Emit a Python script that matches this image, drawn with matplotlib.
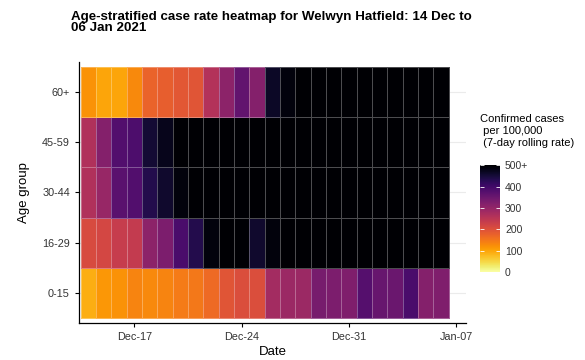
import numpy as np
import pandas as pd
import matplotlib
matplotlib.use("Agg")
import matplotlib.pyplot as plt
import matplotlib.dates as mdates

plt.rcParams['font.family'] = ['Liberation Sans', 'DejaVu Sans']

dates = pd.date_range("2020-12-14", "2021-01-06", freq="D")
age_groups = ["0-15", "16-29", "30-44", "45-59", "60+"]

# 7-day rolling case rate per 100,000, values above 500 shown as 500+
rate_0_15 = [90, 115, 120, 135, 130, 135, 145, 150, 165, 195, 205, 205,
             280, 290, 290, 335, 330, 325, 375, 355, 350, 390, 320, 325]
rate_16_29 = [210, 215, 235, 240, 310, 330, 390, 435, 490, 540, 560, 460,
              490, 560, 600, 620, 640, 650, 640, 620, 610, 600, 590, 580]
rate_30_44 = [265, 295, 370, 380, 435, 460, 490, 520, 560, 600, 640, 660,
              680, 700, 720, 730, 720, 710, 700, 690, 680, 660, 640, 620]
rate_45_59 = [265, 320, 380, 385, 455, 475, 520, 560, 600, 640, 680, 700,
              720, 740, 760, 770, 760, 740, 720, 700, 680, 660, 640, 620]
rate_60 = [120, 100, 100, 130, 175, 180, 190, 195, 260, 310, 360, 320,
           465, 490, 540, 580, 620, 650, 670, 680, 670, 650, 630, 610]

rates = np.array([rate_0_15, rate_16_29, rate_30_44, rate_45_59, rate_60])

x = mdates.date2num(dates)
x_edges = np.append(x - 0.5, x[-1] + 0.5)
y_edges = np.arange(len(age_groups) + 1) - 0.5

fig = plt.figure(figsize=(5.85, 3.6), dpi=100)
ax = fig.add_axes([0.135, 0.103, 0.662, 0.725])

ax.grid(axis='y', color='#ebebeb', linewidth=0.8, zorder=0)
ax.set_axisbelow(True)
mesh = ax.pcolormesh(x_edges, y_edges, np.clip(rates, 0, 500),
                     cmap='inferno_r', vmin=0, vmax=500,
                     edgecolor=(1, 1, 1, 0.3), linewidth=0.6, zorder=2)

ax.set_xlim(x[0] - 0.6, x[-1] + 1.65)
ax.set_ylim(-0.6, 4.6)
ax.set_yticks(range(len(age_groups)))
ax.set_yticklabels(age_groups)

tick_dates = pd.to_datetime(["2020-12-17", "2020-12-24", "2020-12-31", "2021-01-07"])
ax.set_xticks(mdates.date2num(tick_dates))
ax.xaxis.set_major_formatter(mdates.DateFormatter('%b-%d'))

for s in ['top', 'right']:
    ax.spines[s].set_visible(False)
for s in ['left', 'bottom']:
    ax.spines[s].set_color('black')
    ax.spines[s].set_linewidth(0.9)
ax.tick_params(axis='both', labelsize=7.8, colors='#333333', length=3, width=0.8)
ax.tick_params(axis='both', color='black')

ax.set_xlabel('Date', fontsize=9.5, labelpad=3)
ax.set_ylabel('Age group', fontsize=9.5, labelpad=9)

fig.text(0.122, 0.938, "Age-stratified case rate heatmap for Welwyn Hatfield: 14 Dec to\n06 Jan 2021",
         fontsize=9.6, fontweight='bold', ha='left', va='center', linespacing=0.92)

cax = fig.add_axes([0.821, 0.244, 0.034, 0.297])
cb = fig.colorbar(mesh, cax=cax)
cb.outline.set_visible(False)
cb.set_ticks([0, 100, 200, 300, 400, 500])
cb.set_ticklabels(['0', '100', '200', '300', '400', '500+'])
cax.tick_params(labelsize=7.5, colors='white', direction='in', length=3, width=0.6,
                left=True, right=True, labelcolor='#333333')

fig.text(0.82, 0.59, "Confirmed cases\n per 100,000\n (7-day rolling rate)",
         fontsize=8, ha='left', va='bottom', linespacing=1.25)

fig.savefig("out.png", dpi=100)
